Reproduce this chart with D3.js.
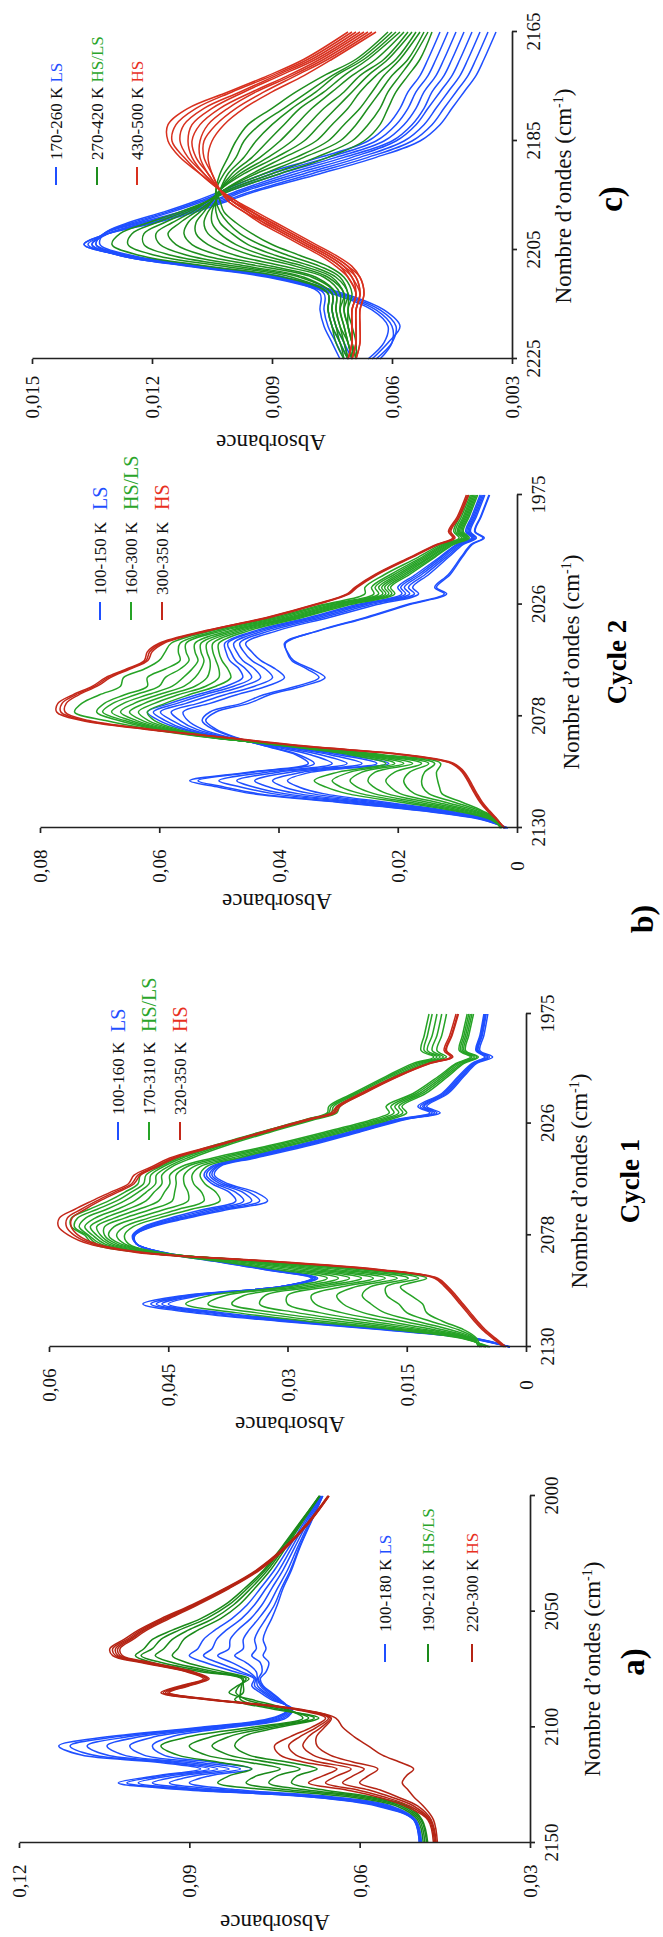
<!DOCTYPE html>
<html><head><meta charset="utf-8">
<script src="https://cdn.jsdelivr.net/npm/d3@7/dist/d3.min.js"></script>
<style>
body{margin:0;background:#fff}
svg{display:block;background:#fff}
</style>
</head><body>
<svg id="chart" width="663" height="1937"></svg>
<script>
// ---------------- DATA ----------------
// Panel a)
const aWn = [2150,2140,2134,2130,2127,2124,2121,2118,2115,2112,2108,2104,2100,2096,2092,2088,2085,2082,2079,2076,2072,2069,2066,2062,2058,2053,2047,2040,2032,2022,2011,2000];
const aBlue = [
[.0495,.0505,.0570,.0690,.0910,.1025,.0960,.0880,.0960,.1090,.1130,.1040,.0880,.0755,.0725,.0740,.0755,.0770,.0775,.0765,.0760,.0770,.0765,.0770,.0765,.0755,.0745,.0735,.0720,.0705,.0685,.0665],
[.0495,.0505,.0565,.0690,.0895,.1010,.0950,.0865,.0945,.1070,.1110,.1025,.0870,.0750,.0725,.0742,.0758,.0772,.0778,.0772,.0775,.0790,.0782,.0785,.0778,.0765,.0750,.0738,.0722,.0706,.0686,.0665],
[.0494,.0504,.0560,.0680,.0880,.0990,.0935,.0850,.0930,.1045,.1080,.1005,.0860,.0745,.0724,.0745,.0762,.0775,.0780,.0782,.0800,.0820,.0805,.0805,.0795,.0778,.0760,.0745,.0727,.0709,.0688,.0666],
[.0493,.0503,.0555,.0670,.0862,.0965,.0915,.0830,.0910,.1015,.1045,.0985,.0850,.0740,.0722,.0748,.0766,.0780,.0782,.0795,.0825,.0850,.0830,.0828,.0815,.0792,.0772,.0755,.0735,.0714,.0691,.0667],
[.0492,.0502,.0550,.0660,.0840,.0935,.0892,.0810,.0888,.0980,.1005,.0960,.0838,.0735,.0720,.0752,.0770,.0785,.0784,.0808,.0850,.0875,.0860,.0852,.0835,.0808,.0785,.0765,.0742,.0719,.0694,.0668],
[.0491,.0501,.0545,.0650,.0815,.0900,.0865,.0790,.0862,.0945,.0965,.0930,.0825,.0730,.0718,.0756,.0775,.0790,.0786,.0820,.0872,.0900,.0885,.0875,.0855,.0825,.0798,.0775,.0750,.0724,.0697,.0669]
];
const aGreen = [
[.0488,.0498,.0535,.0620,.0760,.0850,.0830,.0790,.0850,.0920,.0950,.0900,.0790,.0700,.0730,.0790,.0830,.0815,.0795,.0840,.0905,.0930,.0920,.0910,.0885,.0845,.0812,.0785,.0757,.0729,.0700,.0670],
[.0485,.0495,.0528,.0605,.0725,.0800,.0782,.0740,.0800,.0870,.0900,.0860,.0770,.0690,.0735,.0800,.0818,.0812,.0800,.0855,.0930,.0960,.0945,.0930,.0902,.0858,.0822,.0792,.0762,.0732,.0702,.0670],
[.0482,.0492,.0522,.0592,.0695,.0760,.0745,.0705,.0762,.0830,.0860,.0830,.0755,.0680,.0745,.0810,.0810,.0808,.0805,.0868,.0950,.0985,.0965,.0950,.0918,.0870,.0830,.0798,.0766,.0735,.0703,.0671],
[.0480,.0490,.0516,.0580,.0665,.0720,.0710,.0675,.0728,.0795,.0820,.0805,.0742,.0672,.0755,.0820,.0805,.0805,.0808,.0880,.0965,.0995,.0980,.0965,.0930,.0880,.0837,.0803,.0769,.0737,.0704,.0671]
];
const aRed = [
[.0470,.0480,.0520,.0570,.0625,.0690,.0665,.0640,.0700,.0740,.0750,.0722,.0685,.0660,.0720,.0870,.0950,.0915,.0875,.0905,.0985,.1035,.1040,.1015,.0990,.0950,.0895,.0838,.0782,.0732,.0690,.0656],
[.0468,.0478,.0512,.0558,.0605,.0660,.0640,.0615,.0672,.0712,.0725,.0705,.0676,.0655,.0718,.0868,.0946,.0910,.0872,.0902,.0980,.1030,.1035,.1010,.0986,.0946,.0892,.0836,.0780,.0731,.0689,.0655],
[.0466,.0476,.0505,.0546,.0585,.0630,.0612,.0592,.0642,.0682,.0700,.0690,.0668,.0652,.0716,.0865,.0942,.0906,.0870,.0900,.0977,.1026,.1030,.1006,.0982,.0942,.0890,.0834,.0779,.0730,.0688,.0655],
[.0465,.0474,.0498,.0534,.0565,.0600,.0585,.0568,.0612,.0652,.0675,.0676,.0662,.0650,.0714,.0862,.0938,.0903,.0868,.0897,.0973,.1022,.1026,.1003,.0979,.0939,.0888,.0832,.0778,.0729,.0688,.0654],
[.0463,.0470,.0488,.0505,.0515,.0525,.0518,.0505,.0530,.0560,.0585,.0610,.0630,.0642,.0710,.0858,.0935,.0900,.0865,.0893,.0968,.1018,.1022,.0999,.0975,.0935,.0885,.0830,.0776,.0728,.0687,.0654]
];
const aXTicks = [2150,2100,2050,2000];
const aYTicks = [0.03,0.06,0.09,0.12];
const aYLabels = ["0,03","0,06","0,09","0,12"];
const aLegend = ["100-180 K","190-210 K","220-300 K"];

// Cycle 1
const c1Wn = [2130,2126,2122,2118,2114,2110,2106,2102,2098,2094,2090,2086,2082,2078,2074,2070,2066,2062,2058,2054,2050,2046,2042,2036,2030,2024,2021,2018,2012,2004,1998,1995,1992,1985,1975];
const c1Blue = [
[.0020,.0070,.0180,.0310,.0420,.0482,.0430,.0310,.0262,.0320,.0385,.0455,.0490,.0492,.0470,.0425,.0375,.0325,.0340,.0375,.0392,.0385,.0340,.0270,.0210,.0150,.0108,.0125,.0098,.0078,.0062,.0042,.0058,.0053,.0048],
[.0020,.0068,.0175,.0302,.0410,.0472,.0425,.0310,.0264,.0322,.0388,.0456,.0490,.0492,.0472,.0430,.0382,.0335,.0348,.0380,.0395,.0388,.0345,.0275,.0214,.0153,.0112,.0128,.0100,.0080,.0064,.0046,.0060,.0055,.0050],
[.0020,.0066,.0170,.0295,.0400,.0465,.0420,.0310,.0266,.0324,.0390,.0457,.0490,.0493,.0475,.0436,.0390,.0345,.0356,.0385,.0398,.0390,.0348,.0279,.0217,.0156,.0115,.0130,.0102,.0081,.0065,.0048,.0061,.0056,.0051],
[.0020,.0064,.0165,.0288,.0392,.0458,.0415,.0310,.0268,.0326,.0392,.0458,.0490,.0494,.0478,.0442,.0398,.0355,.0365,.0390,.0402,.0393,.0352,.0283,.0220,.0159,.0118,.0133,.0104,.0083,.0066,.0050,.0062,.0057,.0052],
[.0020,.0062,.0160,.0280,.0383,.0450,.0410,.0308,.0270,.0328,.0394,.0459,.0490,.0495,.0481,.0448,.0406,.0365,.0373,.0395,.0405,.0396,.0356,.0287,.0224,.0162,.0121,.0136,.0106,.0085,.0068,.0052,.0063,.0058,.0053]
];
const c1Green = [
[.0045,.0080,.0165,.0275,.0365,.0428,.0398,.0300,.0250,.0312,.0390,.0465,.0500,.0505,.0494,.0462,.0422,.0385,.0390,.0404,.0410,.0402,.0362,.0294,.0230,.0170,.0150,.0156,.0126,.0098,.0078,.0060,.0076,.0072,.0066],
[.0047,.0078,.0155,.0255,.0340,.0400,.0378,.0288,.0236,.0300,.0380,.0462,.0505,.0515,.0505,.0475,.0438,.0405,.0408,.0418,.0420,.0410,.0370,.0300,.0236,.0175,.0155,.0160,.0130,.0101,.0080,.0062,.0078,.0074,.0068],
[.0050,.0076,.0145,.0235,.0315,.0370,.0355,.0275,.0222,.0288,.0370,.0460,.0510,.0525,.0518,.0490,.0455,.0425,.0425,.0430,.0430,.0418,.0378,.0307,.0242,.0180,.0160,.0165,.0134,.0104,.0083,.0065,.0080,.0076,.0070],
[.0052,.0074,.0135,.0215,.0288,.0335,.0328,.0262,.0207,.0275,.0360,.0465,.0515,.0530,.0530,.0505,.0472,.0445,.0442,.0440,.0440,.0426,.0386,.0314,.0248,.0186,.0166,.0170,.0138,.0107,.0086,.0068,.0082,.0078,.0072],
[.0055,.0072,.0125,.0195,.0260,.0300,.0300,.0248,.0192,.0262,.0352,.0468,.0520,.0535,.0540,.0518,.0488,.0462,.0455,.0448,.0448,.0433,.0394,.0320,.0254,.0192,.0172,.0176,.0142,.0110,.0088,.0070,.0084,.0080,.0074],
[.0057,.0070,.0115,.0175,.0232,.0265,.0270,.0232,.0177,.0250,.0345,.0472,.0525,.0540,.0548,.0530,.0502,.0478,.0468,.0458,.0458,.0445,.0420,.0375,.0322,.0265,.0238,.0234,.0205,.0163,.0126,.0100,.0112,.0106,.0100],
[.0058,.0068,.0105,.0155,.0205,.0230,.0238,.0215,.0162,.0236,.0340,.0476,.0530,.0545,.0555,.0542,.0515,.0492,.0478,.0466,.0465,.0450,.0426,.0380,.0326,.0268,.0242,.0238,.0208,.0166,.0130,.0104,.0118,.0112,.0106],
[.0060,.0066,.0095,.0138,.0178,.0195,.0206,.0196,.0148,.0222,.0336,.0480,.0535,.0550,.0562,.0554,.0528,.0505,.0488,.0474,.0472,.0456,.0432,.0384,.0330,.0271,.0245,.0242,.0212,.0170,.0134,.0108,.0124,.0118,.0112],
[.0060,.0064,.0085,.0120,.0150,.0160,.0175,.0176,.0135,.0208,.0334,.0482,.0540,.0552,.0568,.0564,.0540,.0515,.0497,.0481,.0478,.0460,.0437,.0388,.0333,.0274,.0248,.0245,.0215,.0173,.0138,.0112,.0128,.0124,.0118],
[.0058,.0062,.0078,.0105,.0125,.0130,.0145,.0158,.0125,.0198,.0332,.0484,.0545,.0555,.0572,.0572,.0550,.0525,.0505,.0488,.0485,.0465,.0441,.0391,.0335,.0276,.0250,.0248,.0218,.0176,.0142,.0116,.0132,.0128,.0122]
];
const c1Red = [
[.0028,.0042,.0055,.0065,.0074,.0083,.0092,.0102,.0115,.0190,.0330,.0490,.0550,.0575,.0588,.0587,.0568,.0546,.0523,.0500,.0493,.0470,.0448,.0390,.0333,.0275,.0245,.0238,.0208,.0163,.0123,.0095,.0103,.0096,.0088],
[.0026,.0040,.0053,.0063,.0072,.0081,.0090,.0100,.0113,.0186,.0326,.0485,.0545,.0568,.0578,.0577,.0560,.0540,.0518,.0496,.0488,.0466,.0444,.0387,.0330,.0272,.0242,.0236,.0206,.0161,.0121,.0093,.0101,.0094,.0086],
[.0025,.0038,.0051,.0061,.0070,.0079,.0088,.0098,.0111,.0182,.0322,.0480,.0540,.0563,.0572,.0571,.0555,.0536,.0514,.0493,.0485,.0463,.0441,.0385,.0328,.0270,.0240,.0234,.0204,.0160,.0120,.0092,.0100,.0093,.0085]
];
const c1XTicks = [2130,2078,2026,1975];
const c1YTicks = [0,0.015,0.03,0.045,0.06];
const c1YLabels = ["0","0,015","0,03","0,045","0,06"];
const c1Legend = ["100-160 K","170-310 K","320-350 K"];

// Cycle 2
const c2Wn = [2130,2126,2122,2118,2114,2111,2108,2104,2100,2096,2092,2088,2084,2080,2076,2072,2068,2064,2060,2056,2052,2048,2044,2038,2032,2026,2021,2018,2012,2004,1998,1995,1992,1985,1975];
const c2Blue = [
[.0015,.0060,.0160,.0300,.0445,.0500,.0549,.0450,.0350,.0370,.0420,.0470,.0505,.0522,.0505,.0450,.0415,.0360,.0322,.0345,.0375,.0385,.0390,.0330,.0250,.0180,.0118,.0135,.0112,.0092,.0075,.0055,.0070,.0060,.0046],
[.0016,.0058,.0155,.0292,.0435,.0490,.0535,.0442,.0340,.0365,.0418,.0472,.0510,.0528,.0515,.0462,.0425,.0370,.0332,.0352,.0378,.0386,.0388,.0332,.0254,.0184,.0122,.0138,.0115,.0094,.0077,.0057,.0071,.0061,.0047],
[.0018,.0055,.0145,.0275,.0410,.0462,.0500,.0420,.0310,.0345,.0412,.0480,.0528,.0552,.0560,.0515,.0470,.0420,.0390,.0405,.0430,.0445,.0455,.0400,.0315,.0235,.0165,.0175,.0148,.0115,.0090,.0068,.0078,.0068,.0054],
[.0019,.0053,.0138,.0262,.0390,.0440,.0470,.0400,.0285,.0328,.0405,.0484,.0538,.0565,.0580,.0535,.0490,.0440,.0410,.0422,.0445,.0458,.0465,.0412,.0325,.0245,.0172,.0182,.0154,.0119,.0093,.0070,.0080,.0070,.0056],
[.0020,.0051,.0130,.0248,.0368,.0415,.0440,.0380,.0260,.0312,.0398,.0488,.0548,.0578,.0598,.0555,.0510,.0460,.0430,.0440,.0460,.0470,.0475,.0422,.0334,.0254,.0180,.0189,.0160,.0123,.0096,.0072,.0082,.0072,.0058],
[.0021,.0049,.0122,.0234,.0345,.0390,.0410,.0360,.0235,.0298,.0392,.0492,.0556,.0590,.0610,.0570,.0525,.0475,.0445,.0455,.0472,.0480,.0485,.0430,.0342,.0262,.0187,.0195,.0165,.0127,.0099,.0074,.0084,.0074,.0060],
[.0022,.0047,.0115,.0220,.0325,.0365,.0385,.0345,.0215,.0286,.0386,.0495,.0562,.0600,.0620,.0582,.0537,.0488,.0460,.0466,.0482,.0488,.0490,.0437,.0349,.0269,.0193,.0200,.0170,.0130,.0101,.0076,.0086,.0076,.0062]
];
const c2Green = [
[.0025,.0045,.0105,.0195,.0285,.0320,.0340,.0300,.0220,.0278,.0385,.0498,.0570,.0608,.0620,.0590,.0550,.0505,.0480,.0485,.0495,.0500,.0500,.0448,.0360,.0280,.0205,.0212,.0180,.0138,.0106,.0080,.0090,.0080,.0066],
[.0026,.0043,.0098,.0180,.0262,.0295,.0310,.0280,.0205,.0270,.0382,.0500,.0576,.0618,.0635,.0608,.0568,.0522,.0500,.0500,.0505,.0510,.0510,.0456,.0366,.0286,.0210,.0217,.0185,.0141,.0108,.0082,.0092,.0082,.0068],
[.0027,.0041,.0090,.0165,.0240,.0268,.0280,.0260,.0190,.0262,.0378,.0502,.0582,.0628,.0650,.0625,.0585,.0540,.0520,.0515,.0515,.0520,.0520,.0464,.0372,.0292,.0215,.0222,.0190,.0145,.0111,.0084,.0094,.0084,.0070],
[.0028,.0039,.0082,.0150,.0218,.0240,.0250,.0238,.0175,.0254,.0374,.0504,.0588,.0638,.0665,.0642,.0602,.0558,.0540,.0530,.0525,.0530,.0530,.0472,.0378,.0298,.0220,.0227,.0195,.0148,.0114,.0086,.0096,.0086,.0072],
[.0028,.0037,.0075,.0135,.0196,.0212,.0220,.0205,.0160,.0246,.0370,.0506,.0594,.0648,.0680,.0660,.0620,.0578,.0560,.0545,.0535,.0540,.0540,.0480,.0384,.0304,.0225,.0232,.0200,.0152,.0117,.0088,.0098,.0088,.0074],
[.0028,.0035,.0068,.0120,.0172,.0185,.0190,.0180,.0148,.0238,.0368,.0508,.0600,.0658,.0695,.0678,.0640,.0600,.0590,.0565,.0550,.0555,.0555,.0490,.0392,.0310,.0232,.0238,.0206,.0156,.0120,.0090,.0100,.0090,.0076],
[.0027,.0034,.0062,.0105,.0148,.0158,.0160,.0155,.0138,.0230,.0366,.0510,.0606,.0668,.0705,.0692,.0658,.0620,.0620,.0590,.0565,.0568,.0565,.0498,.0400,.0318,.0240,.0244,.0212,.0160,.0123,.0093,.0103,.0093,.0078],
[.0026,.0033,.0058,.0092,.0126,.0130,.0133,.0135,.0128,.0222,.0364,.0512,.0615,.0690,.0742,.0730,.0700,.0665,.0660,.0625,.0600,.0590,.0580,.0508,.0408,.0325,.0255,.0255,.0222,.0166,.0127,.0097,.0106,.0096,.0081]
];
const c2Red = [
[.0020,.0035,.0050,.0062,.0071,.0077,.0083,.0092,.0110,.0190,.0360,.0490,.0625,.0730,.0772,.0770,.0745,.0712,.0690,.0655,.0625,.0620,.0600,.0520,.0420,.0340,.0285,.0272,.0238,.0180,.0135,.0108,.0115,.0100,.0085],
[.0021,.0034,.0048,.0060,.0069,.0075,.0081,.0090,.0108,.0186,.0355,.0486,.0620,.0724,.0765,.0763,.0740,.0708,.0686,.0652,.0622,.0616,.0596,.0517,.0418,.0338,.0283,.0270,.0236,.0178,.0133,.0106,.0113,.0098,.0083],
[.0022,.0033,.0046,.0058,.0067,.0073,.0079,.0088,.0106,.0182,.0350,.0482,.0615,.0718,.0758,.0756,.0735,.0704,.0682,.0649,.0619,.0612,.0592,.0514,.0415,.0336,.0281,.0268,.0234,.0176,.0131,.0104,.0111,.0096,.0081]
];
const c2XTicks = [2130,2078,2026,1975];
const c2YTicks = [0,0.02,0.04,0.06,0.08];
const c2YLabels = ["0","0,02","0,04","0,06","0,08"];
const c2Legend = ["100-150 K","160-300 K","300-350 K"];

// Panel c)
const cWn = [2225,2222,2219,2216,2213,2210,2208,2206,2204,2202,2200,2198,2196,2194,2191,2188,2185,2182,2179,2176,2173,2170,2165];
const cBlue = [
[.0065,.0061,.0058,.0062,.0072,.0088,.0108,.0127,.0137,.0131,.0119,.0109,.0101,.0093,.0078,.0064,.0053,.0048,.0045,.0042,.0039,.0037,.0034],
[.0064,.0060,.0059,.0063,.0073,.0089,.0109,.0127,.0137,.0131,.0120,.0110,.0102,.0094,.0080,.0066,.0055,.0050,.0047,.0044,.0041,.0039,.0036],
[.0063,.0060,.0060,.0064,.0074,.0090,.0110,.0128,.0136,.0131,.0121,.0111,.0103,.0096,.0082,.0068,.0057,.0052,.0049,.0046,.0043,.0041,.0038],
[.0066,.0062,.0061,.0065,.0075,.0091,.0111,.0128,.0135,.0131,.0122,.0112,.0104,.0097,.0084,.0070,.0059,.0054,.0051,.0048,.0045,.0043,.0040],
[.0073,.0075,.0077,.0078,.0078,.0090,.0110,.0128,.0135,.0132,.0123,.0113,.0105,.0098,.0086,.0072,.0060,.0055,.0052,.0050,.0047,.0045,.0042],
[.0072,.0074,.0076,.0077,.0077,.0089,.0109,.0127,.0134,.0132,.0124,.0115,.0107,.0100,.0088,.0074,.0062,.0057,.0054,.0052,.0049,.0047,.0044],
[.0071,.0073,.0075,.0076,.0076,.0088,.0108,.0126,.0134,.0132,.0125,.0116,.0108,.0101,.0090,.0076,.0064,.0059,.0056,.0054,.0051,.0049,.0046],
[.0070,.0072,.0074,.0075,.0075,.0087,.0107,.0125,.0133,.0132,.0126,.0117,.0109,.0102,.0092,.0078,.0066,.0061,.0058,.0056,.0053,.0051,.0048]
];
const cGreen = [
[.0072,.0074,.0075,.0076,.0076,.0087,.0106,.0123,.0130,.0128,.0121,.0113,.0106,.0100,.0088,.0076,.0067,.0063,.0061,.0059,.0056,.0053,.0050],
[.0072,.0073,.0075,.0076,.0076,.0085,.0102,.0119,.0126,.0125,.0119,.0112,.0106,.0101,.0090,.0079,.0070,.0066,.0063,.0061,.0058,.0055,.0051],
[.0071,.0073,.0074,.0075,.0075,.0083,.0099,.0115,.0122,.0122,.0117,.0111,.0106,.0102,.0092,.0082,.0073,.0069,.0066,.0063,.0060,.0056,.0052],
[.0071,.0072,.0074,.0075,.0075,.0082,.0096,.0111,.0118,.0119,.0115,.0110,.0106,.0102,.0094,.0084,.0076,.0072,.0068,.0065,.0062,.0058,.0053],
[.0071,.0072,.0073,.0074,.0074,.0080,.0093,.0107,.0114,.0116,.0113,.0109,.0105,.0102,.0095,.0087,.0079,.0075,.0071,.0068,.0064,.0059,.0054],
[.0070,.0071,.0073,.0074,.0074,.0079,.0090,.0103,.0110,.0112,.0111,.0108,.0105,.0103,.0097,.0089,.0082,.0078,.0074,.0070,.0066,.0061,.0055],
[.0070,.0071,.0072,.0073,.0073,.0077,.0087,.0099,.0106,.0109,.0109,.0107,.0105,.0103,.0098,.0091,.0085,.0081,.0077,.0072,.0068,.0062,.0056],
[.0070,.0071,.0072,.0073,.0072,.0076,.0084,.0095,.0102,.0106,.0107,.0106,.0104,.0103,.0099,.0093,.0088,.0084,.0080,.0075,.0070,.0064,.0057],
[.0070,.0070,.0071,.0072,.0072,.0075,.0082,.0092,.0099,.0103,.0105,.0105,.0104,.0103,.0100,.0095,.0091,.0087,.0083,.0077,.0072,.0066,.0058],
[.0069,.0070,.0071,.0072,.0071,.0074,.0080,.0089,.0096,.0100,.0103,.0104,.0104,.0103,.0101,.0097,.0094,.0090,.0085,.0079,.0074,.0067,.0059],
[.0069,.0070,.0071,.0071,.0071,.0073,.0078,.0086,.0093,.0098,.0101,.0103,.0104,.0104,.0102,.0099,.0097,.0093,.0087,.0081,.0075,.0068,.0060],
[.0069,.0069,.0070,.0071,.0070,.0072,.0076,.0083,.0090,.0095,.0099,.0102,.0103,.0104,.0103,.0101,.0099,.0096,.0090,.0084,.0077,.0069,.0061]
];
const cRed = [
[.0069,.0068,.0068,.0068,.0067,.0068,.0070,.0074,.0079,.0084,.0089,.0094,.0099,.0103,.0108,.0113,.0116,.0116,.0111,.0101,.0091,.0082,.0071],
[.0069,.0068,.0068,.0068,.0067,.0068,.0071,.0075,.0080,.0085,.0090,.0095,.0099,.0103,.0108,.0112,.0115,.0114,.0109,.0100,.0090,.0081,.0070],
[.0070,.0069,.0069,.0069,.0068,.0069,.0071,.0075,.0080,.0085,.0090,.0095,.0100,.0103,.0107,.0111,.0113,.0112,.0107,.0098,.0089,.0080,.0069],
[.0070,.0069,.0069,.0069,.0068,.0069,.0072,.0076,.0081,.0086,.0091,.0095,.0100,.0103,.0107,.0110,.0111,.0110,.0105,.0097,.0088,.0079,.0068],
[.0070,.0069,.0069,.0069,.0068,.0070,.0072,.0076,.0081,.0086,.0091,.0096,.0100,.0103,.0106,.0109,.0110,.0108,.0103,.0095,.0086,.0078,.0067],
[.0071,.0070,.0070,.0070,.0069,.0070,.0073,.0077,.0082,.0087,.0092,.0096,.0100,.0103,.0106,.0108,.0108,.0106,.0101,.0094,.0085,.0077,.0066],
[.0071,.0070,.0070,.0070,.0069,.0071,.0073,.0077,.0082,.0087,.0092,.0097,.0101,.0103,.0105,.0107,.0107,.0104,.0099,.0092,.0084,.0076,.0065],
[.0071,.0070,.0070,.0070,.0069,.0071,.0074,.0078,.0083,.0088,.0093,.0097,.0101,.0103,.0105,.0106,.0105,.0102,.0097,.0090,.0082,.0075,.0064]
];
const cXTicks = [2225,2205,2185,2165];
const cYTicks = [0.003,0.006,0.009,0.012,0.015];
const cYLabels = ["0,003","0,006","0,009","0,012","0,015"];
const cLegend = ["170-260 K","270-420 K","430-500 K"];

const states = ["LS","HS/LS","HS"];

// ---------------- DRAWING ----------------
const FONT = '"Liberation Serif","Times New Roman",Times,serif';
const stateColors = ["#1f4fff","#2aa52a","#e8301e"];
const svg = d3.select('#chart');
svg.append('rect').attr('width',663).attr('height',1937).attr('fill','#fff');
// The figure is laid out landscape (1937 x 663) and turned a quarter turn.
const root = svg.append('g').attr('transform','translate(0,1937) rotate(-90)')
  .attr('font-family', FONT);

const panels = [
  {wn:aWn, sets:[aBlue,aGreen,aRed], xd:[2150,2000], yd:[0.03,0.12], xt:aXTicks, yt:aYTicks, yl:aYLabels, legend:aLegend,
   cols:["#1f4fff","#1a8a1a","#b52414"],
   L:{xr:[94,441], yr:[530,19], abs:[14,275], wnT:[268,592], tag:{t:"a)",x:275,y:632,s:33},
      leg:{line:275,text:305,state:null,rows:[385,428,472]}}},
  {wn:c1Wn, sets:[c1Blue,c1Green,c1Red], xd:[2130,1975], yd:[0,0.06], xt:c1XTicks, yt:c1YTicks, yl:c1YLabels, legend:c1Legend,
   cols:["#1f4fff","#26a326","#c4281a"],
   L:{xr:[590,923], yr:[526,49], abs:[512,290], wnT:[756,579], tag:{t:"Cycle 1",x:756,y:630,s:27},
      leg:{line:797,text:822,state:905,rows:[118,149,180]}}},
  {wn:c2Wn, sets:[c2Blue,c2Green,c2Red], xd:[2130,1975], yd:[0,0.08], xt:c2XTicks, yt:c2YTicks, yl:c2YLabels, legend:c2Legend,
   cols:["#1f4fff","#26a326","#c4281a"],
   L:{xr:[1109,1442], yr:[517,40], abs:[1035,277], wnT:[1275,571], tag:{t:"Cycle 2",x:1275,y:617,s:27},
      leg:{line:1317,text:1342,state:1427,rows:[100,131,162]}}},
  {wn:cWn, sets:[cBlue,cGreen,cRed], xd:[2225,2165], yd:[0.003,0.015], xt:cXTicks, yt:cYTicks, yl:cYLabels, legend:cLegend,
   cols:["#1f4fff","#1e8e1e","#d8301e"],
   L:{xr:[1578,1905], yr:[512,32], abs:[1494,271], wnT:[1741,563], tag:{t:"c)",x:1738,y:610,s:33},
      leg:{line:1752,text:1777,state:null,rows:[56,97,137]}}}
];

panels.forEach(p => {
  const L = p.L;
  const g = root.append('g');
  const x = d3.scaleLinear().domain(p.xd).range(L.xr);
  const y = d3.scaleLinear().domain(p.yd).range(L.yr);
  const line = d3.line().defined(d => d != null)
    .x((d,i) => x(p.wn[i])).y(d => y(d))
    .curve(d3.curveCatmullRom.alpha(0.5));
  p.sets.forEach((set, k) => {
    g.append('g').selectAll('path').data(set).join('path')
      .attr('d', line).attr('fill','none')
      .attr('stroke', p.cols[k]).attr('stroke-width', 1.5)
      .attr('stroke-linejoin','round');
  });
  // Absorbance axis (left in landscape)
  const ya = g.append('g').attr('transform', `translate(${L.xr[0]},0)`)
    .call(d3.axisLeft(y).tickValues(p.yt).tickFormat((d,i) => p.yl[i]).tickSize(5).tickSizeOuter(0));
  ya.attr('font-family', FONT).attr('font-size', 19);
  ya.selectAll('text').attr('x', -38).attr('dy','0.35em').attr('text-anchor','middle').attr('fill','#111');
  // Wavenumber axis (bottom in landscape)
  const xa = g.append('g').attr('transform', `translate(0,${L.yr[0]})`)
    .call(d3.axisBottom(x).tickValues(p.xt).tickFormat(d => String(d)).tickSize(5).tickSizeOuter(0));
  xa.attr('font-family', FONT).attr('font-size', 19);
  xa.selectAll('text').attr('y', 21).attr('dy','0.35em').attr('fill','#111');
  [ya, xa].forEach(a => {
    a.select('.domain').attr('stroke','#222').attr('stroke-width',1.7);
    a.selectAll('.tick line').attr('stroke','#222').attr('stroke-width',1.7);
  });
  // Titles
  g.append('text').attr('transform', `translate(${L.abs[0]},${L.abs[1]}) rotate(-90)`)
    .attr('text-anchor','middle').attr('dy','0.35em').attr('font-size',23).attr('fill','#111').text('Absorbance');
  const t = g.append('text').attr('x', L.wnT[0]).attr('y', L.wnT[1]).attr('text-anchor','middle')
    .attr('dy','0.35em').attr('font-size',23).attr('fill','#111');
  t.append('tspan').text('Nombre d’ondes (cm');
  t.append('tspan').attr('dy',-8).attr('font-size',14).text('-1');
  t.append('tspan').attr('dy',8).text(')');
  g.append('text').attr('x', L.tag.x).attr('y', L.tag.y).attr('text-anchor','middle').attr('dy','0.35em')
    .attr('font-size', L.tag.s).attr('font-weight','bold').attr('fill','#000').text(L.tag.t);
  // Legend
  p.legend.forEach((lab, i) => {
    const ry = L.leg.rows[i];
    g.append('line').attr('x1', L.leg.line).attr('x2', L.leg.line + 18).attr('y1', ry).attr('y2', ry)
      .attr('stroke', p.cols[i]).attr('stroke-width', 2);
    const tx = g.append('text').attr('x', L.leg.text).attr('y', ry).attr('dy','0.35em').attr('font-size',17);
    tx.append('tspan').attr('fill','#111').text(lab);
    if (L.leg.state == null) {
      tx.append('tspan').attr('fill', stateColors[i]).text(' ' + states[i]);
    } else {
      g.append('text').attr('x', L.leg.state).attr('y', ry).attr('dy','0.35em').attr('font-size',20)
        .attr('fill', stateColors[i]).text(states[i]);
    }
  });
});
// panel tag b)
root.append('text').attr('x',1018).attr('y',653).attr('text-anchor','middle')
  .attr('font-size',32).attr('font-weight','bold').attr('fill','#000').text('b)');
</script>
</body></html>
